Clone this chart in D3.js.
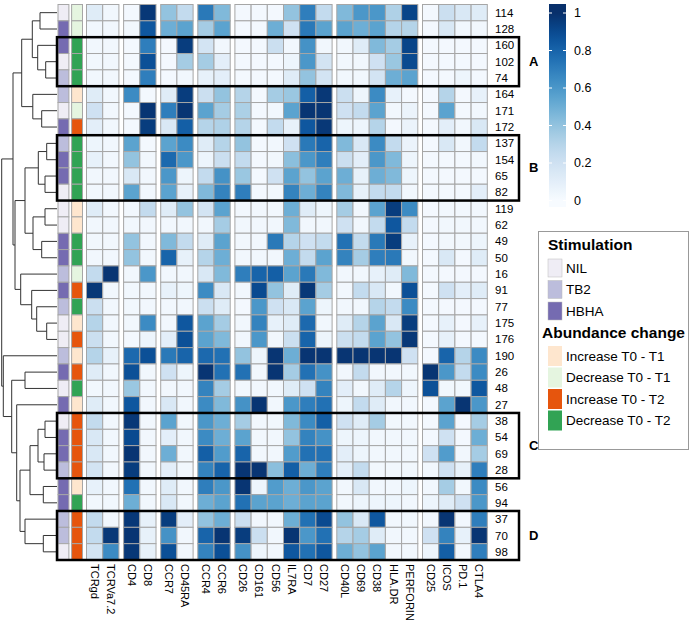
<!DOCTYPE html>
<html>
<head>
<meta charset="utf-8">
<script src="https://cdn.jsdelivr.net/npm/d3@7"></script>
<style>
  body { margin: 0; background: #fff; }
  svg { display: block; font-family: "Liberation Sans", Arial, sans-serif; }
</style>
</head>
<body>
<svg id="chart" width="696" height="620"></svg>
<script>
// cluster ids, top to bottom
const rows = ['114','128','160','102','74','164','171','172','137','154','65','82','119','62','49','50',
  '16','91','77','175','176','190','26','48','27','38','54','69','28','56','94','37','70','98'];

const cols = ['TCRgd','TCRVa7.2','CD4','CD8','CCR7','CD45RA','CCR4','CCR6','CD26','CD161','CD56','IL7RA',
  'CD7','CD27','CD40L','CD69','CD38','HLA.DR','PERFORIN','CD25','ICOS','PD.1','CTLA4'];
const colGroups = [2, 2, 2, 2, 6, 5, 4];

const stimLevels = ['NIL', 'TB2', 'HBHA'];
const stimColors = ['#EFEDF5', '#BCBDDC', '#756BB1'];
const abundLevels = ['Increase T0 - T1', 'Decrease T0 - T1', 'Increase T0 - T2', 'Decrease T0 - T2'];
const abundColors = ['#FEE6CE', '#E5F5E0', '#E6550D', '#31A354'];

const stim = ['NIL','HBHA','HBHA','NIL','TB2','TB2','NIL','HBHA','TB2','HBHA','HBHA','NIL','NIL','NIL','HBHA','HBHA',
  'TB2','HBHA','TB2','NIL','NIL','TB2','HBHA','NIL','HBHA','NIL','HBHA','HBHA','TB2','HBHA','HBHA','TB2','TB2','NIL'];
const abund = [1,1,3,3,3,0,1,2,3,3,3,3,0,0,3,3,1,2,3,0,2,0,2,3,0,2,2,2,2,0,3,2,2,2].map(i => abundLevels[i]);

const values = [
  [0.12,0.03,0.02,0.97,0.40,0.25,0.72,0.45,0.02,0.02,0.02,0.40,0.70,0.25,0.45,0.60,0.60,0.32,0.92,0.02,0.22,0.15,0.12],
  [0.03,0.03,0.03,0.85,0.50,0.55,0.35,0.55,0.02,0.02,0.50,0.20,0.72,0.55,0.55,0.50,0.55,0.30,0.30,0.02,0.15,0.03,0.03],
  [0.03,0.03,0.02,0.70,0.02,0.95,0.18,0.03,0.02,0.02,0.22,0.03,0.62,0.03,0.03,0.12,0.45,0.35,0.92,0.02,0.02,0.02,0.02],
  [0.03,0.03,0.02,0.88,0.02,0.35,0.35,0.10,0.02,0.02,0.02,0.05,0.60,0.18,0.03,0.03,0.20,0.38,0.90,0.02,0.02,0.02,0.02],
  [0.03,0.03,0.02,0.70,0.02,0.03,0.08,0.10,0.02,0.02,0.02,0.12,0.40,0.18,0.03,0.03,0.18,0.50,0.55,0.02,0.02,0.05,0.02],
  [0.12,0.03,0.65,0.02,0.12,0.95,0.22,0.40,0.30,0.02,0.35,0.38,0.82,0.97,0.22,0.05,0.65,0.08,0.02,0.02,0.30,0.02,0.08],
  [0.20,0.03,0.02,0.98,0.70,0.98,0.55,0.35,0.33,0.02,0.03,0.55,0.98,0.98,0.20,0.25,0.55,0.03,0.06,0.02,0.55,0.02,0.03],
  [0.10,0.03,0.02,0.95,0.15,0.82,0.30,0.32,0.30,0.02,0.25,0.08,0.85,0.97,0.05,0.05,0.30,0.02,0.06,0.02,0.10,0.03,0.15],
  [0.05,0.03,0.55,0.02,0.55,0.65,0.12,0.30,0.40,0.02,0.03,0.20,0.72,0.80,0.45,0.15,0.65,0.25,0.06,0.02,0.15,0.03,0.25],
  [0.08,0.03,0.40,0.03,0.78,0.60,0.05,0.22,0.25,0.02,0.03,0.42,0.60,0.70,0.22,0.10,0.60,0.45,0.05,0.02,0.02,0.02,0.03],
  [0.03,0.03,0.15,0.03,0.60,0.05,0.25,0.62,0.38,0.02,0.20,0.55,0.40,0.55,0.50,0.08,0.50,0.45,0.05,0.02,0.02,0.02,0.02],
  [0.03,0.03,0.55,0.03,0.55,0.08,0.45,0.68,0.70,0.02,0.03,0.68,0.50,0.68,0.45,0.08,0.25,0.25,0.03,0.02,0.02,0.02,0.10],
  [0.12,0.03,0.03,0.25,0.12,0.40,0.18,0.55,0.03,0.03,0.03,0.50,0.12,0.05,0.35,0.03,0.55,0.95,0.65,0.02,0.03,0.03,0.03],
  [0.03,0.03,0.03,0.03,0.03,0.03,0.03,0.35,0.03,0.03,0.03,0.45,0.03,0.03,0.20,0.03,0.25,0.85,0.25,0.02,0.03,0.03,0.03],
  [0.03,0.03,0.40,0.03,0.45,0.25,0.12,0.55,0.03,0.03,0.72,0.30,0.20,0.25,0.75,0.25,0.72,0.95,0.08,0.02,0.03,0.03,0.05],
  [0.03,0.03,0.40,0.03,0.80,0.08,0.30,0.50,0.03,0.03,0.03,0.50,0.25,0.55,0.68,0.35,0.70,0.72,0.03,0.02,0.15,0.02,0.12],
  [0.25,0.98,0.03,0.60,0.03,0.03,0.15,0.45,0.70,0.80,0.82,0.55,0.72,0.45,0.03,0.03,0.08,0.12,0.45,0.02,0.02,0.02,0.02],
  [0.97,0.03,0.03,0.03,0.08,0.05,0.65,0.15,0.03,0.90,0.40,0.12,0.97,0.35,0.03,0.25,0.15,0.03,0.88,0.02,0.20,0.10,0.12],
  [0.22,0.03,0.03,0.03,0.03,0.03,0.22,0.12,0.02,0.60,0.20,0.15,0.55,0.05,0.03,0.03,0.30,0.25,0.65,0.02,0.02,0.02,0.02],
  [0.30,0.03,0.03,0.65,0.03,0.85,0.55,0.35,0.03,0.68,0.08,0.12,0.78,0.03,0.12,0.30,0.55,0.15,0.95,0.02,0.08,0.02,0.08],
  [0.22,0.03,0.02,0.05,0.10,0.88,0.55,0.45,0.03,0.60,0.03,0.22,0.80,0.05,0.22,0.25,0.55,0.40,0.97,0.02,0.08,0.02,0.02],
  [0.30,0.08,0.78,0.88,0.72,0.80,0.78,0.75,0.40,0.05,0.98,0.50,0.98,0.98,0.98,0.98,0.98,0.98,0.20,0.02,0.80,0.30,0.65],
  [0.12,0.03,0.88,0.03,0.20,0.05,0.98,0.75,0.75,0.03,0.98,0.35,0.75,0.62,0.03,0.25,0.03,0.03,0.03,0.98,0.60,0.25,0.65],
  [0.03,0.03,0.38,0.03,0.03,0.03,0.68,0.35,0.03,0.03,0.03,0.12,0.20,0.68,0.10,0.03,0.12,0.30,0.05,0.88,0.03,0.03,0.85],
  [0.12,0.03,0.85,0.03,0.15,0.03,0.65,0.45,0.62,0.98,0.03,0.60,0.70,0.75,0.05,0.25,0.12,0.03,0.03,0.02,0.55,0.98,0.60],
  [0.25,0.03,0.97,0.03,0.55,0.03,0.60,0.50,0.35,0.03,0.03,0.45,0.65,0.82,0.20,0.12,0.35,0.03,0.03,0.02,0.55,0.02,0.35],
  [0.15,0.03,0.90,0.03,0.10,0.03,0.65,0.50,0.55,0.03,0.03,0.40,0.68,0.62,0.05,0.05,0.03,0.03,0.03,0.02,0.20,0.02,0.50],
  [0.15,0.03,0.98,0.03,0.50,0.03,0.82,0.58,0.80,0.03,0.03,0.58,0.75,0.75,0.10,0.05,0.03,0.03,0.03,0.20,0.58,0.03,0.35],
  [0.18,0.03,0.95,0.03,0.10,0.03,0.68,0.80,0.98,0.98,0.42,0.82,0.50,0.70,0.10,0.25,0.03,0.03,0.03,0.03,0.20,0.08,0.70],
  [0.08,0.03,0.75,0.03,0.12,0.03,0.70,0.60,0.98,0.05,0.58,0.50,0.60,0.55,0.03,0.15,0.03,0.03,0.05,0.03,0.35,0.03,0.65],
  [0.03,0.03,0.50,0.03,0.15,0.03,0.50,0.55,0.75,0.55,0.55,0.50,0.55,0.55,0.03,0.05,0.05,0.05,0.03,0.05,0.12,0.20,0.60],
  [0.25,0.03,0.97,0.08,0.95,0.10,0.40,0.50,0.22,0.03,0.03,0.50,0.75,0.90,0.40,0.15,0.85,0.03,0.03,0.03,0.98,0.03,0.70],
  [0.25,0.97,0.98,0.08,0.62,0.03,0.80,0.98,0.95,0.22,0.03,0.98,0.60,0.75,0.30,0.35,0.12,0.03,0.03,0.20,0.68,0.08,0.98],
  [0.18,0.65,0.97,0.08,0.88,0.03,0.68,0.88,0.62,0.05,0.03,0.85,0.75,0.85,0.50,0.40,0.55,0.03,0.03,0.05,0.82,0.03,0.70]
];

// highlighted row blocks
const boxes = [
  { label: 'A', from: '160', to: '74' },
  { label: 'B', from: '137', to: '82' },
  { label: 'C', from: '38', to: '28' },
  { label: 'D', from: '37', to: '98' }
];

const legendTicks = [0, 0.2, 0.4, 0.6, 0.8, 1];

// row dendrogram: merge height, two children
const n = (h, a, b) => ({ h, children: [a, b] });
const tree = n(55.3,
  n(44,
    n(35.3,
      n(24.7, n(17, '114', '128'), n(19.3, '160', n(11.3, '102', '74'))),
      n(24.2, '164', n(15.3, '171', '172'))),
    n(42,
      n(32,
        n(18.7, n(10.3, '137', '154'), n(12, '65', '82')),
        n(24, n(12, '119', '62'), n(15.3, '49', '50'))),
      n(36.3, '16', n(25.3, '91', n(20.3, '77', n(10.3, '175', '176')))))),
  n(53.7, '190',
    n(45.3, n(32, '26', '48'),
      n(40.3, '27',
        n(37,
          n(27, n(19, n(12, '38', '54'), n(13, '69', '28')), n(13.7, '56', '94')),
          n(32, '37', n(13.7, '70', '98')))))));

const svg = d3.select('#chart');
const gridColor = '#a6a6a6';
const gap = 4.7;

const y = d3.scaleBand().domain(rows).range([4.5, 560]);
const x = d3.scaleBand().domain(cols).range([86.5, 487.3 - gap * (colGroups.length - 1)]);
const groupIdx = {};
let k = 0;
colGroups.forEach((size, gi) => { for (let i = 0; i < size; i++) groupIdx[cols[k++]] = gi; });
const cx = c => x(c) + groupIdx[c] * gap;
const color = d3.scaleSequential(d3.interpolateBlues).domain([0, 1]);

// heatmap cells
const cells = svg.append('g');
rows.forEach((r, i) => {
  cols.forEach((c, j) => {
    cells.append('rect')
      .attr('x', cx(c)).attr('y', y(r))
      .attr('width', x.bandwidth()).attr('height', y.bandwidth())
      .attr('fill', color(values[i][j]))
      .attr('stroke', gridColor).attr('stroke-width', 1);
  });
});

// annotation columns
const ax = d3.scaleBand().domain(['stim', 'abund']).range([58, 82.5]).paddingInner(0.2);
const stimColor = d3.scaleOrdinal(stimLevels, stimColors);
const abundColor = d3.scaleOrdinal(abundLevels, abundColors);
const ann = svg.append('g');
rows.forEach((r, i) => {
  ann.append('rect')
    .attr('x', ax('stim')).attr('y', y(r))
    .attr('width', ax.bandwidth()).attr('height', y.bandwidth())
    .attr('fill', stimColor(stim[i])).attr('stroke', gridColor);
  ann.append('rect')
    .attr('x', ax('abund')).attr('y', y(r))
    .attr('width', ax.bandwidth()).attr('height', y.bandwidth())
    .attr('fill', abundColor(abund[i])).attr('stroke', gridColor);
});

// row labels
svg.append('g').selectAll('text').data(rows).join('text')
  .attr('x', 495).attr('y', d => y(d) + y.bandwidth() / 2)
  .attr('dy', '0.35em')
  .attr('font-size', 11.5).attr('fill', '#000')
  .text(d => d);

// column labels
svg.append('g').selectAll('text').data(cols).join('text')
  .attr('transform', d => `translate(${cx(d) + x.bandwidth() / 2},564) rotate(90)`)
  .attr('dy', '0.35em')
  .attr('font-size', 11).attr('fill', '#000')
  .text(d => d);

// dendrogram
const hx = d3.scaleLinear().domain([0, 56]).range([57, 1]);
const dendro = svg.append('g').attr('stroke', '#333').attr('stroke-width', 1).attr('fill', 'none');
function drawNode(node) {
  if (typeof node === 'string') return { x: hx(0), y: y(node) + y.bandwidth() / 2 };
  const kids = node.children.map(drawNode);
  const nx = hx(node.h);
  dendro.append('line').attr('x1', nx).attr('x2', nx).attr('y1', kids[0].y).attr('y2', kids[1].y);
  kids.forEach(kd => {
    dendro.append('line').attr('x1', nx).attr('x2', kd.x).attr('y1', kd.y).attr('y2', kd.y);
  });
  return { x: nx, y: (kids[0].y + kids[1].y) / 2 };
}
drawNode(tree);

// boxes around row blocks
const boxG = svg.append('g');
boxes.forEach(b => {
  const y0 = y(b.from), y1 = y(b.to) + y.bandwidth();
  boxG.append('rect')
    .attr('x', 57).attr('y', y0).attr('width', 462).attr('height', y1 - y0)
    .attr('fill', 'none').attr('stroke', '#000').attr('stroke-width', 2.5);
  boxG.append('text')
    .attr('x', 529).attr('y', (y0 + y1) / 2).attr('dy', '0.35em')
    .attr('font-size', 13).attr('font-weight', 'bold')
    .text(b.label);
});

// colour bar legend
const ly = d3.scaleLinear().domain([0, 1]).range([200.5, 13]);
const barTop = 4, barBot = 207;
const grad = svg.append('defs').append('linearGradient')
  .attr('id', 'bar').attr('x1', 0).attr('y1', 1).attr('x2', 0).attr('y2', 0);
d3.range(0, 1.001, 0.05).forEach(v => {
  grad.append('stop')
    .attr('offset', (barBot - ly(v)) / (barBot - barTop))
    .attr('stop-color', color(v));
});
svg.append('rect').attr('x', 549).attr('y', barTop).attr('width', 17).attr('height', barBot - barTop)
  .attr('fill', 'url(#bar)');
const lg = svg.append('g');
legendTicks.forEach(v => {
  lg.append('line').attr('x1', 549).attr('x2', 552).attr('y1', ly(v)).attr('y2', ly(v)).attr('stroke', '#fff');
  lg.append('line').attr('x1', 563).attr('x2', 566).attr('y1', ly(v)).attr('y2', ly(v)).attr('stroke', '#fff');
  lg.append('text').attr('x', 574).attr('y', ly(v)).attr('dy', '0.35em')
    .attr('font-size', 12.5).text(v);
});

// discrete legends
const leg = svg.append('g');
leg.append('rect').attr('x', 538.5).attr('y', 231.5).attr('width', 150).attr('height', 218)
  .attr('fill', 'none').attr('stroke', '#999');
leg.append('text').attr('x', 548).attr('y', 245).attr('dy', '0.35em')
  .attr('font-size', 15.5).attr('font-weight', 'bold').text('Stimulation');
stimLevels.forEach((s, i) => {
  const yc = 268 + i * 21.5;
  leg.append('rect').attr('x', 548).attr('y', yc - 9).attr('width', 14).attr('height', 18)
    .attr('fill', stimColors[i]).attr('stroke', '#bbb').attr('stroke-width', 0.5);
  leg.append('text').attr('x', 566).attr('y', yc).attr('dy', '0.35em').attr('font-size', 13.5).text(s);
});
leg.append('text').attr('x', 542).attr('y', 333).attr('dy', '0.35em')
  .attr('font-size', 15.5).attr('font-weight', 'bold').text('Abundance change');
abundLevels.forEach((s, i) => {
  const yc = 356 + i * 21.5;
  leg.append('rect').attr('x', 548).attr('y', yc - 10).attr('width', 14).attr('height', 20)
    .attr('fill', abundColors[i]);
  leg.append('text').attr('x', 566).attr('y', yc).attr('dy', '0.35em').attr('font-size', 13.5).text(s);
});
</script>
</body>
</html>
